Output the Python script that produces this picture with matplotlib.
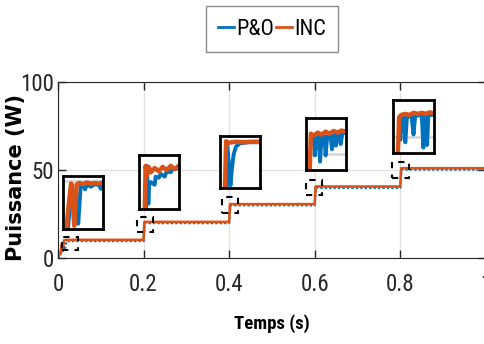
import matplotlib
matplotlib.use("Agg")
import matplotlib.pyplot as plt
from matplotlib import font_manager
from matplotlib.lines import Line2D
from matplotlib.patches import Rectangle

BLUE = "#0072BD"
ORANGE = "#D95319"


def pick_font(names):
    for name in names:
        try:
            font_manager.findfont(name, fallback_to_default=False)
            return name
        except ValueError:
            continue
    return "DejaVu Sans"


NARROW = pick_font(["Liberation Sans Narrow", "Roboto Condensed", "Liberation Sans", "Roboto"])
plt.rcParams["font.family"] = [NARROW, "DejaVu Sans"]

# main traces (time in s, power in W)
t_inc = [0.0, 0.006, 0.009, 0.011, 0.014, 0.018, 0.2, 0.202, 0.4, 0.402, 0.6, 0.602, 0.8, 0.802, 1.0]
p_inc = [0.0, 3.0, 8.0, 4.0, 10.0, 10.3, 10.3, 20.5, 20.5, 30.6, 30.6, 40.6, 40.6, 51.0, 51.0]
t_po = [0.0, 0.008, 0.012, 0.016, 0.02, 0.2, 0.203, 0.4, 0.403, 0.6, 0.603, 0.8, 0.803, 1.0]
p_po = [0.0, 3.0, 7.0, 5.0, 9.6, 9.6, 19.8, 19.8, 29.9, 29.9, 39.8, 39.8, 50.2, 50.2]

# dashed zoom markers: (t0, p0, width, height)
zoom_boxes = [(0.009, 4.5, 0.038, 7.5), (0.185, 14.8, 0.037, 8.5), (0.383, 25.6, 0.037, 9.0),
              (0.58, 35.8, 0.037, 8.5), (0.78, 45.5, 0.04, 9.0)]

# inset positions (axes fraction) and zoomed traces (relative units)
inset_pos = [[0.012, 0.165, 0.093, 0.30], [0.189, 0.278, 0.093, 0.307], [0.379, 0.398, 0.093, 0.295],
             [0.579, 0.50, 0.093, 0.295], [0.783, 0.597, 0.096, 0.30]]
inc_x = [
    [0.08, 0.14, 0.2, 0.24, 0.28, 0.34, 0.4, 0.5, 0.6, 0.7, 0.8, 0.9, 1.0],
    [0.15, 0.17, 0.2, 0.25, 0.3, 0.4, 0.5, 0.6, 0.7, 0.8, 0.9, 1.0],
    [0.12, 0.15, 0.2, 0.4, 0.6, 0.8, 1.0],
    [0.1, 0.13, 0.2, 0.3, 0.4, 0.5, 0.6, 0.7, 0.8, 0.9, 1.0],
    [0.12, 0.15, 0.2, 0.3, 0.4, 0.5, 0.6, 0.7, 0.8, 0.9, 1.0],
]
inc_y = [
    [0.0, 0.45, 0.86, 0.5, 0.06, 0.84, 0.87, 0.85, 0.88, 0.86, 0.87, 0.86, 0.88],
    [0.0, 0.8, 0.62, 0.78, 0.68, 0.76, 0.7, 0.78, 0.72, 0.8, 0.74, 0.8],
    [0.0, 0.9, 0.87, 0.89, 0.88, 0.89, 0.89],
    [0.0, 0.7, 0.66, 0.72, 0.68, 0.74, 0.7, 0.75, 0.72, 0.76, 0.74],
    [0.0, 0.68, 0.72, 0.74, 0.72, 0.76, 0.74, 0.76, 0.74, 0.77, 0.75],
]
po_x = [
    [0.12, 0.22, 0.3, 0.34, 0.38, 0.44, 0.5, 0.55, 0.6, 0.7, 0.8, 0.9, 0.95, 1.0],
    [0.18, 0.2, 0.24, 0.26, 0.3, 0.4, 0.42, 0.5, 0.55, 0.65, 0.7, 0.8, 0.85, 1.0],
    [0.16, 0.18, 0.26, 0.3, 0.34, 0.4, 0.5, 0.7, 1.0],
    [0.14, 0.2, 0.23, 0.27, 0.33, 0.36, 0.4, 0.47, 0.5, 0.54, 0.62, 0.66, 0.7, 0.74, 0.76, 0.8, 0.86, 0.88, 0.92, 1.0],
    [0.15, 0.18, 0.2, 0.26, 0.3, 0.34, 0.45, 0.5, 0.54, 0.7, 0.74, 0.77, 0.8, 0.83, 0.86, 0.9, 1.0],
]
po_y = [
    [0.0, 0.84, 0.2, 0.6, 0.1, 0.8, 0.85, 0.75, 0.84, 0.8, 0.85, 0.83, 0.76, 0.85],
    [0.0, 0.8, 0.1, 0.45, 0.5, 0.45, 0.6, 0.58, 0.65, 0.6, 0.7, 0.68, 0.74, 0.75],
    [0.0, 0.85, 0.05, 0.4, 0.65, 0.8, 0.86, 0.88, 0.88],
    [0.6, 0.65, 0.28, 0.62, 0.65, 0.16, 0.63, 0.66, 0.28, 0.64, 0.67, 0.4, 0.66, 0.68, 0.47, 0.68, 0.7, 0.5, 0.7, 0.72],
    [0.6, 0.25, 0.66, 0.68, 0.2, 0.68, 0.7, 0.35, 0.7, 0.72, 0.1, 0.7, 0.72, 0.15, 0.72, 0.72, 0.72],
]
inset_grid = [0.9, None, None, 0.3, 0.3]

fig = plt.figure(figsize=(4.84, 3.44), dpi=100)
ax = fig.add_axes([0.1198, 0.25, 0.884, 0.5116])

ax.plot(t_po, p_po, color=BLUE, lw=1.6, ls=(0, (1, 1)))
ax.plot(t_inc, p_inc, color=ORANGE, lw=1.9)

for t0, p0, w, h in zoom_boxes:
    ax.add_patch(Rectangle((t0, p0), w, h, fill=False, ec="black", lw=1.5, ls=(0, (3, 3)), zorder=4))

for i, pos in enumerate(inset_pos):
    ins = ax.inset_axes(pos)
    ins.set_xlim(0, 1)
    ins.set_ylim(0, 1)
    if inset_grid[i] is not None:
        ins.axhline(inset_grid[i], color="#d8d8d8", lw=2)
    ins.plot(po_x[i], po_y[i], color=BLUE, lw=2.8)
    ins.plot(inc_x[i], inc_y[i], color=ORANGE, lw=3.2)
    ins.set_xticks([])
    ins.set_yticks([])
    for s in ins.spines.values():
        s.set_linewidth(2)
        s.set_color("black")

ax.set_xlim(0, 1)
ax.set_ylim(0, 100)
ax.set_xticks([0, 0.2, 0.4, 0.6, 0.8, 1.0])
ax.set_xticklabels(["0", "0.2", "0.4", "0.6", "0.8", "1"])
ax.set_yticks([0, 50, 100])
ax.grid(True, color="#e2e2e2", lw=1)
ax.set_axisbelow(True)
ax.tick_params(direction="in", length=6, width=1, labelsize=16.5, top=True, right=True, colors="#262626")
ax.tick_params(axis="x", pad=11)
ax.tick_params(axis="y", pad=3)
for s in ax.spines.values():
    s.set_color("#262626")

ax.set_xlabel("Temps (s)", fontsize=13.5, fontweight="bold", labelpad=13)
ax.set_ylabel("Puissance (W)", fontsize=15, fontweight="bold", family="DejaVu Sans")
ax.yaxis.set_label_coords(-0.074, 0.455)

handles = [Line2D([], [], color=BLUE, lw=2), Line2D([], [], color=ORANGE, lw=2)]
ax.legend(handles, ["P&O", "INC"], loc="upper center", bbox_to_anchor=(0.5, 1.43), ncol=2,
          fontsize=16, frameon=True, fancybox=False, edgecolor="#8c8c8c", framealpha=1,
          handlelength=0.7, handletextpad=0.1, columnspacing=0.1, borderpad=0.55, borderaxespad=0)

fig.savefig("out.png", dpi=100)
